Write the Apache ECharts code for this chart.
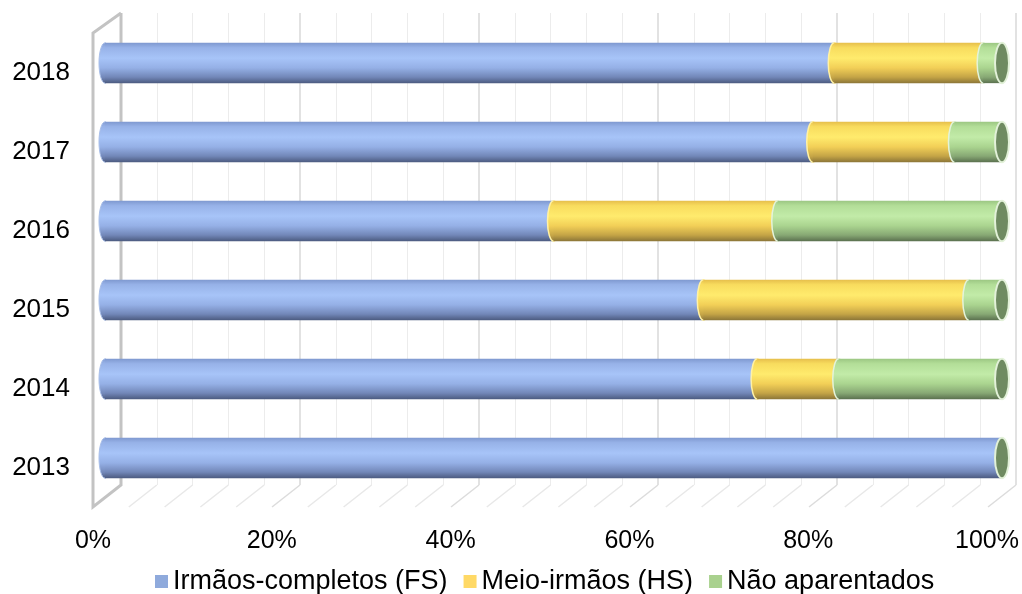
<!DOCTYPE html>
<html>
<head>
<meta charset="utf-8">
<script src="https://cdn.jsdelivr.net/npm/echarts@6/dist/echarts.min.js"></script>
<style>
  html, body { margin: 0; padding: 0; background: #fff; }
  #chart { width: 1022px; height: 594px; }
</style>
</head>
<body>
<div id="chart"></div>
<script>
const years = ["2013", "2014", "2015", "2016", "2017", "2018"];
const fullSibs = [100, 72.7, 66.7, 50.0, 78.9, 81.3];
const halfSibs = [0, 9.1, 29.6, 25.0, 15.8, 16.6];
const unrelated = [0, 18.2, 3.7, 25.0, 5.3, 2.1];
const seriesNames = ["Irmãos-completos (FS)", "Meio-irmãos (HS)", "Não aparentados"];
const xTicks = [0, 20, 40, 60, 80, 100];
const floorTicks = [0, 4, 8, 12, 16, 20, 24, 28, 32, 36, 40, 44, 48, 52, 56, 60, 64, 68, 72, 76, 80, 84, 88, 92, 96, 100];

const FONT = "'Liberation Sans', Arial, sans-serif";
const DEPTH_X = -28, DEPTH_Y = 22;

// cylinder shading, top -> bottom
const shades = [
  { legend: "#8faadc", edge: "#b9cdf2", stops: ["#7f99d0", "#97b2e8", "#a7c4f8", "#95b0e6", "#7287b8", "#4c5b80"] },
  { legend: "#ffd966", edge: "#fff1a6", stops: ["#e6bf4c", "#f8dc5e", "#ffeb6d", "#f2cf57", "#c4a446", "#8c7638"] },
  { legend: "#a9d18e", edge: "#e4f3da", stops: ["#9cc783", "#b3de98", "#c2eba8", "#aad48f", "#87a874", "#5b714f"] },
];
const stopPos = [0, 0.12, 0.38, 0.62, 0.85, 1];

function grad(i) {
  return new echarts.graphic.LinearGradient(0, 0, 0, 1,
    shades[i].stops.map((c, k) => ({ offset: stopPos[k], color: c })));
}

// stacked [category, start, end]
const seriesValues = [fullSibs, halfSibs, unrelated];
const stacked = seriesValues.map(() => []);
years.forEach((y, i) => {
  let acc = 0;
  seriesValues.forEach((vals, s) => {
    stacked[s].push([i, acc, acc + vals[i]]);
    acc += vals[i];
  });
});

function cylinderItem(s) {
  return function (params, api) {
    const cat = api.value(0);
    const p0 = api.coord([api.value(1), cat]);
    const p1 = api.coord([api.value(2), cat]);
    const h = api.size([0, 1])[1] * 0.51;
    const rx = 6;
    const children = [];
    if (p1[0] - p0[0] > 0.01) {
      // rounded left end first, body drawn over its right half
      children.push({
        type: "ellipse",
        shape: { cx: p0[0], cy: p0[1], rx: rx, ry: h / 2 },
        style: { fill: grad(s), stroke: s > 0 ? shades[s].edge : "#a9bfe9", lineWidth: s > 0 ? 1.5 : 1 },
      });
      children.push({
        type: "rect",
        shape: { x: p0[0], y: p0[1] - h / 2, width: p1[0] - p0[0], height: h },
        style: { fill: grad(s) },
      });
    }
    if (s === 2) {
      // end cap of the whole cylinder
      children.push({
        type: "ellipse",
        shape: { cx: p1[0], cy: p1[1], rx: rx + 1, ry: h / 2 },
        style: { fill: "#6f8b61", stroke: "#e2f1d8", lineWidth: 2 },
      });
    }
    return { type: "group", children: children };
  };
}

function wallItem(params, api) {
  const v = api.value(0);
  const b = api.coord([v, 0]);
  const children = [{
    type: "line",
    shape: { x1: b[0], y1: b[1], x2: b[0] + DEPTH_X, y2: b[1] + DEPTH_Y },
    style: { stroke: v % 20 === 0 ? "#dcdcdc" : "#e8e8e8", lineWidth: 1.5 },
  }];
  if (v === 0) {
    const t = api.coord([0, 1]);
    children.push({
      type: "polyline",
      shape: { points: [
        [t[0], t[1]], [t[0] + DEPTH_X, t[1] + DEPTH_Y - 2],
        [b[0] + DEPTH_X, b[1] + DEPTH_Y], [b[0], b[1]], [t[0], t[1]],
      ] },
      style: { stroke: "#c3c3c3", lineWidth: 3, fill: null },
    });
  }
  return { type: "group", children: children };
}

const chart = echarts.init(document.getElementById("chart"));
chart.setOption({
  animation: false,
  backgroundColor: "#fff",
  textStyle: { fontFamily: FONT },
  legend: {
    data: seriesNames,
    top: 563,
    left: 150,
    icon: "rect",
    itemWidth: 13,
    itemHeight: 13,
    itemGap: 16,
    textStyle: { fontSize: 27, color: "#000", fontFamily: FONT },
  },
  grid: [
    // back wall
    { left: 121, right: 6, top: 13, bottom: 109 },
    // bars (mid depth)
    { left: 105, right: 20, top: 23.5, bottom: 96.5 },
    // front plane (labels)
    { left: 93, right: 34, top: 33, bottom: 87 },
  ],
  xAxis: [
    {
      gridIndex: 0, type: "value", min: 0, max: 100, interval: 20,
      axisLine: { show: false }, axisTick: { show: false }, axisLabel: { show: false },
      splitLine: { show: true, lineStyle: { color: "#d9d9d9", width: 1.5 } },
      minorTick: { show: false, splitNumber: 5 },
      minorSplitLine: { show: true, lineStyle: { color: "#ececec", width: 1 } },
    },
    {
      gridIndex: 1, type: "value", min: 0, max: 100, show: false,
    },
    {
      gridIndex: 2, type: "value", min: 0, max: 100, interval: 20,
      axisLine: { show: false }, axisTick: { show: false }, splitLine: { show: false },
      axisLabel: {
        fontSize: 25, color: "#000", margin: 22, fontFamily: FONT,
        formatter: (v) => (xTicks.includes(v) ? v + "%" : ""),
      },
    },
  ],
  yAxis: [
    { gridIndex: 0, type: "value", min: 0, max: 1, show: false },
    { gridIndex: 1, type: "category", data: years, show: false },
    {
      gridIndex: 2, type: "category", data: years,
      axisLine: { show: false }, axisTick: { show: false }, splitLine: { show: false },
      axisLabel: { fontSize: 26, color: "#000", margin: 23, fontFamily: FONT },
    },
  ],
  series: [
    {
      type: "custom", name: "walls", xAxisIndex: 0, yAxisIndex: 0, z: 1, silent: true,
      data: floorTicks.map((v) => [v]),
      renderItem: wallItem,
    },
  ].concat(seriesNames.map((name, s) => ({
    type: "custom",
    name: name,
    xAxisIndex: 1,
    yAxisIndex: 1,
    z: 3 + s,
    itemStyle: { color: shades[s].legend },
    encode: { x: [1, 2], y: 0 },
    data: stacked[s],
    renderItem: cylinderItem(s),
  }))),
});
</script>
</body>
</html>
